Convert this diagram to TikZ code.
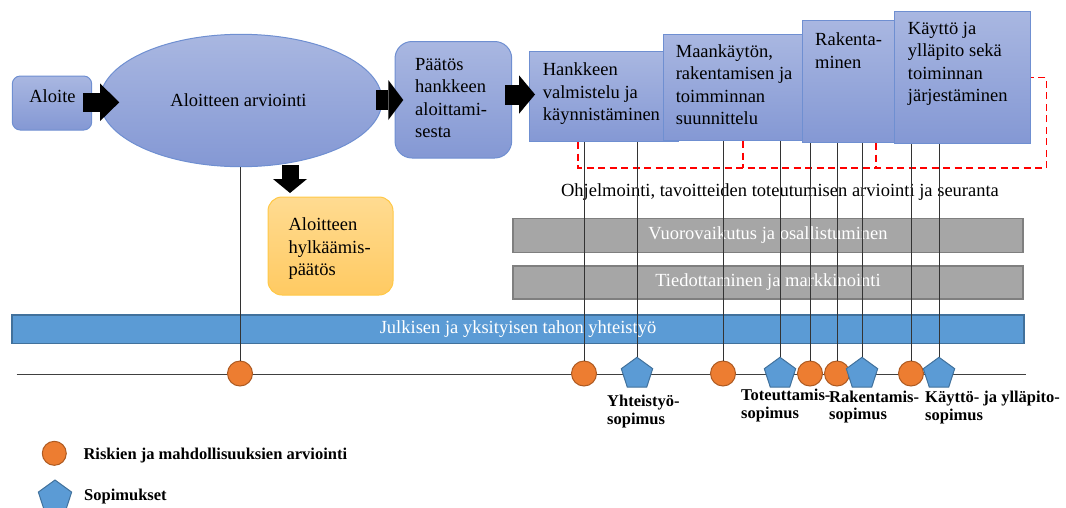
\documentclass[tikz,border=0pt]{standalone}
\usepackage{fontspec}
\setmainfont{Liberation Serif}
\usetikzlibrary{shapes.geometric,arrows.meta}

\definecolor{boxtop}{RGB}{169,183,225}
\definecolor{boxbot}{RGB}{132,152,212}
\definecolor{boxline}{RGB}{111,143,209}
\definecolor{yeltop}{RGB}{255,219,145}
\definecolor{yelbot}{RGB}{255,202,98}
\definecolor{yelline}{RGB}{255,200,70}
\definecolor{barfill}{RGB}{166,166,166}
\definecolor{barline}{RGB}{127,127,127}
\definecolor{bluefill}{RGB}{91,155,213}
\definecolor{blueline}{RGB}{65,113,156}
\definecolor{orfill}{RGB}{237,125,49}
\definecolor{orline}{RGB}{174,90,33}
\definecolor{dashred}{RGB}{255,0,0}

\begin{document}
\begin{tikzpicture}[x=1pt,y=-1pt,
  phase/.style={draw=boxline, line width=1pt, top color=boxtop, bottom color=boxbot, inner sep=0pt},
  rphase/.style={phase, rounded corners=#1},
  rejectbox/.style={draw=yelline, line width=1pt, top color=yeltop, bottom color=yelbot, inner sep=0pt, rounded corners=14pt},
  bodytext/.style={font=\fontsize{18.5}{22.5}\selectfont, inner sep=0pt, align=left, text=black},
  greybar/.style={draw=barline, fill=barfill, line width=1.5pt, inner sep=0pt, font=\fontsize{18.5}{22.5}\selectfont, text=white},
  bluebar/.style={draw=blueline, fill=bluefill, line width=1.2pt, inner sep=0pt, font=\fontsize{18.5}{22.5}\selectfont, text=white},
  blockarr/.style n args={3}{draw=black, line width=#1, -{Triangle[length=#2, width=#3, line width=0pt]}},
  riskdot/.style={circle, draw=orline, fill=orfill, line width=1pt, minimum size=25pt, inner sep=0pt},
  contract/.style={regular polygon, regular polygon sides=5, draw=blueline, fill=bluefill, line width=1pt, minimum size=33pt, inner sep=0pt},
  vline/.style={draw=black!80, line width=0.9pt},
  redline/.style={draw=dashred, line width=1.5pt, dash pattern=on 7pt off 4.5pt},
  timeline/.style={draw=black!75, line width=1pt},
  boldlabel/.style={font=\bfseries\fontsize{16.5}{17.5}\selectfont, inner sep=0pt, align=left}
]
\useasboundingbox (0,0) rectangle (1066,507);

% --- horizontal bands ---
\node[greybar, minimum width=510pt, minimum height=34pt] (vuoro) at (768,235.3) {Vuorovaikutus ja osallistuminen};
\node[greybar, minimum width=510pt, minimum height=33pt] (tied) at (768,282.5) {Tiedottaminen ja markkinointi};
\node[bluebar, minimum width=1012pt, minimum height=28.3pt] (julk) at (518,329.2) {Julkisen ja yksityisen tahon yhteistyö};
\node[bodytext] (ohj) at (780,191.7) {Ohjelmointi, tavoitteiden toteutumisen arviointi ja seuranta};

% --- process steps ---
\node[rphase=8pt, minimum width=79.4pt, minimum height=54pt] (aloite) at (52,103) {};
\node[bodytext] (aloitetxt) at (52.5,96) {Aloite};
\node[phase, ellipse, minimum width=282pt, minimum height=132.4pt] (ell) at (241,100.5) {};
\node[bodytext] (elltxt) at (238.5,100) {Aloitteen arviointi};
\node[rphase=17pt, minimum width=116.7pt, minimum height=116.5pt] (paatos) at (453.35,99.75) {};
\node[bodytext, anchor=north west] (paatostxt) at (415,58) {Päätös\\hankkeen\\aloittami-\\sesta};

\node[phase, minimum width=149pt, minimum height=90.7pt] (hank) at (603.5,96.35) {};
\node[phase, minimum width=139pt, minimum height=106.7pt] (maan) at (732.5,87.35) {};
\node[phase, minimum width=98pt, minimum height=122.7pt] (rak) at (851,81.35) {};
\node[phase, minimum width=136.4pt, minimum height=132.3pt] (kay) at (962.5,77.15) {};
\node[bodytext, anchor=north west] (hanktxt) at (542.6,62.5) {Hankkeen\\valmistelu ja\\käynnistäminen};
\node[bodytext, anchor=north west] (maantxt) at (675.6,44.2) {Maankäytön,\\rakentamisen ja\\toimminnan\\suunnittelu};
\node[bodytext, anchor=north west] (raktxt) at (815,32.5) {Rakenta-\\minen};
\node[bodytext, anchor=north west] (kaytxt) at (907.7,22) {Käyttö ja\\ylläpito sekä\\toiminnan\\järjestäminen};

\node[rejectbox, minimum width=125pt, minimum height=98pt] (hylk) at (330.5,246) {};
\node[bodytext, anchor=north west] (hylktxt) at (288.3,217.5) {Aloitteen\\hylkäämis-\\päätös};

% --- block arrows between steps ---
\coordinate (a1s) at (83.3,102.3); \coordinate (a1e) at (119.3,102.3);
\coordinate (a2s) at (376,100);    \coordinate (a2e) at (403.3,100);
\coordinate (a3s) at (505,94.5);   \coordinate (a3e) at (535,94.5);
\coordinate (a4s) at (290,165);    \coordinate (a4e) at (290,193);
\draw[blockarr={18.4pt}{19.3pt}{37.7pt}] (a1s) -- (a1e);
\draw[blockarr={20pt}{15pt}{40pt}] (a2s) -- (a2e);
\draw[blockarr={20pt}{16pt}{38.5pt}] (a3s) -- (a3e);
\draw[blockarr={17pt}{14pt}{34pt}] (a4s) -- (a4e);

% --- monitoring loop (dashed) ---
\coordinate (r1) at (578,168);
\coordinate (r2) at (1046.7,168);
\coordinate (r3) at (1046.7,77.3);
\coordinate (r4) at (743,168);
\coordinate (r5) at (876,168);
\draw[redline] (hank.south -| r1) -- (r1) -- (r2) -- (r3) -- (kay.east |- r3);
\draw[redline] (maan.south -| r4) -- (r4);
\draw[redline] (rak.south -| r5) -- (r5);

% --- time line with milestones ---
\coordinate (tl) at (16.5,374);
\coordinate (tr) at (1026,374);
\draw[timeline] (tl) -- (tr);

\node[riskdot] (c0) at (240,373.5) {};
\node[riskdot] (c1) at (584,373.5) {};
\node[contract] (p1) at (637,373.8) {};
\node[riskdot] (c2) at (723,373.5) {};
\node[contract] (p2) at (780,373.8) {};
\node[riskdot] (c3) at (810,373.5) {};
\node[riskdot] (c4) at (837,373.5) {};
\node[contract] (p3) at (862,373.8) {};
\node[riskdot] (c5) at (911,373.5) {};
\node[contract] (p4) at (939,373.8) {};

\draw[vline] (c0.north) -- (c0 |- ell.south);
\draw[vline] (c1.north) -- (c1 |- hank.south);
\draw[vline] (p1.north) -- (p1 |- hank.south);
\draw[vline] (c2.north) -- (c2 |- maan.south);
\draw[vline] (p2.north) -- (p2 |- maan.south);
\draw[vline] (c3.north) -- (c3 |- rak.south);
\draw[vline] (c4.north) -- (c4 |- rak.south);
\draw[vline] (p3.north) -- (p3 |- rak.south);
\draw[vline] (c5.north) -- (c5 |- kay.south);
\draw[vline] (p4.north) -- (p4 |- kay.south);

% --- contract labels ---
\node[boldlabel, anchor=north west] (l1) at (607,395) {Yhteistyö-\\sopimus};
\node[boldlabel, anchor=north west] (l2) at (741,389) {Toteuttamis-\\sopimus};
\node[boldlabel, anchor=north west] (l3) at (829,390.5) {Rakentamis-\\sopimus};
\node[boldlabel, anchor=north west] (l4) at (925,391) {Käyttö- ja ylläpito-\\sopimus};

% --- legend ---
\node[riskdot, minimum size=24pt] (legc) at (54.3,453.3) {};
\node[boldlabel, anchor=base west] (legctxt) at (83.3,459.3) {Riskien ja mahdollisuuksien arviointi};
\node[contract, minimum size=35pt] (legp) at (55,497.5) {};
\node[boldlabel, anchor=base west] (legptxt) at (84,500) {Sopimukset};
\end{tikzpicture}
\end{document}
